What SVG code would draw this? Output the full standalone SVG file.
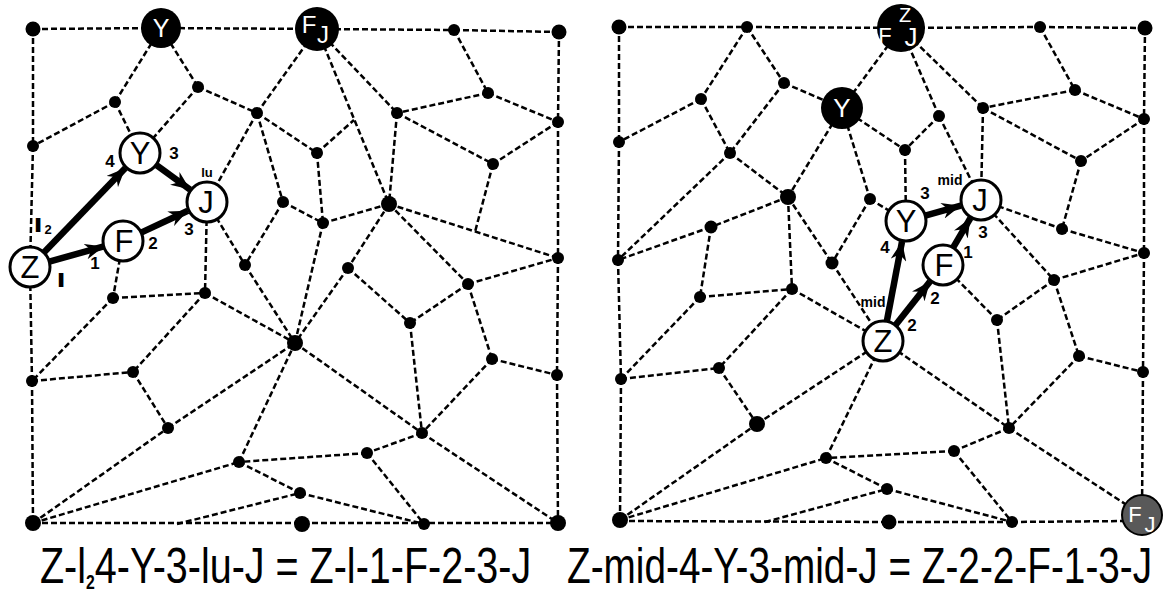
<svg xmlns="http://www.w3.org/2000/svg" width="1166" height="592" viewBox="0 0 1166 592">
<defs>
<style>
.e line{stroke:#000;stroke-width:2.5;stroke-dasharray:6 3;fill:none}
.n{fill:#000}
.c{fill:#fff;stroke:#000;stroke-width:3}
.a line{stroke:#000;stroke-width:6.5;marker-end:url(#ah)}
.cl{font-family:"Liberation Sans",Arial,sans-serif;font-size:31px;text-anchor:middle;fill:#000}
.wl{font-family:"Liberation Sans",Arial,sans-serif;text-anchor:middle;fill:#fff}
.lb{font-family:"Liberation Sans",Arial,sans-serif;font-weight:bold;font-size:17px;text-anchor:middle;fill:#000}
.sm{font-family:"Liberation Sans",Arial,sans-serif;font-weight:bold;font-size:13px;text-anchor:middle;fill:#000}
.md{font-family:"Liberation Sans",Arial,sans-serif;font-weight:bold;font-size:14px;text-anchor:middle;fill:#000}
.hv{stroke:#000;stroke-width:2.2}
.bt{font-family:"Liberation Sans",Arial,sans-serif;font-size:50px;fill:#000}
</style>
<marker id="ah" markerUnits="userSpaceOnUse" markerWidth="19" markerHeight="16" viewBox="0 0 19 16" refX="19" refY="8" orient="auto">
<path d="M0,0 L19,8 L0,16 L6,8 z" fill="#000"/>
</marker>
</defs>
<rect width="1166" height="592" fill="#fff"/>

<g id="connectors-left" class="e">
<line x1="33" y1="29" x2="161" y2="28"/>
<line x1="161" y1="28" x2="317" y2="29"/>
<line x1="317" y1="29" x2="454" y2="30"/>
<line x1="454" y1="30" x2="559" y2="32"/>
<line x1="559" y1="32" x2="558" y2="122"/>
<line x1="558" y1="122" x2="558" y2="258"/>
<line x1="558" y1="258" x2="557" y2="375"/>
<line x1="557" y1="375" x2="558" y2="523"/>
<line x1="33" y1="523" x2="558" y2="523"/>
<line x1="33" y1="29" x2="33" y2="146"/>
<line x1="33" y1="146" x2="30" y2="267"/>
<line x1="30" y1="267" x2="32" y2="381"/>
<line x1="32" y1="381" x2="33" y2="523"/>
<line x1="161" y1="28" x2="115" y2="102"/>
<line x1="161" y1="28" x2="198" y2="87"/>
<line x1="198" y1="87" x2="257" y2="113"/>
<line x1="115" y1="102" x2="33" y2="146"/>
<line x1="115" y1="102" x2="140" y2="153"/>
<line x1="198" y1="87" x2="140" y2="153"/>
<line x1="257" y1="113" x2="317" y2="29"/>
<line x1="257" y1="113" x2="317" y2="153"/>
<line x1="257" y1="113" x2="207" y2="202"/>
<line x1="257" y1="113" x2="283" y2="202"/>
<line x1="283" y1="202" x2="245" y2="265"/>
<line x1="207" y1="202" x2="245" y2="265"/>
<line x1="207" y1="202" x2="205" y2="293"/>
<line x1="123" y1="241" x2="113" y2="298"/>
<line x1="317" y1="29" x2="389" y2="204"/>
<line x1="317" y1="29" x2="397" y2="113"/>
<line x1="454" y1="30" x2="488" y2="93"/>
<line x1="488" y1="93" x2="397" y2="113"/>
<line x1="488" y1="93" x2="558" y2="122"/>
<line x1="397" y1="113" x2="493" y2="164"/>
<line x1="558" y1="122" x2="493" y2="164"/>
<line x1="397" y1="113" x2="389" y2="204"/>
<line x1="493" y1="164" x2="475" y2="232"/>
<line x1="389" y1="204" x2="558" y2="258"/>
<line x1="389" y1="204" x2="323" y2="223"/>
<line x1="317" y1="153" x2="323" y2="223"/>
<line x1="317" y1="153" x2="354" y2="120"/>
<line x1="283" y1="202" x2="323" y2="223"/>
<line x1="323" y1="223" x2="295" y2="343"/>
<line x1="389" y1="204" x2="348" y2="268"/>
<line x1="389" y1="204" x2="468" y2="284"/>
<line x1="468" y1="284" x2="558" y2="258"/>
<line x1="348" y1="268" x2="410" y2="323"/>
<line x1="348" y1="268" x2="295" y2="343"/>
<line x1="468" y1="284" x2="410" y2="323"/>
<line x1="468" y1="284" x2="492" y2="359"/>
<line x1="492" y1="359" x2="557" y2="375"/>
<line x1="492" y1="359" x2="422" y2="433"/>
<line x1="410" y1="323" x2="422" y2="433"/>
<line x1="295" y1="343" x2="422" y2="433"/>
<line x1="422" y1="433" x2="367" y2="453"/>
<line x1="422" y1="433" x2="558" y2="523"/>
<line x1="367" y1="453" x2="239" y2="462"/>
<line x1="367" y1="453" x2="424" y2="524"/>
<line x1="300" y1="493" x2="424" y2="524"/>
<line x1="239" y1="462" x2="300" y2="493"/>
<line x1="239" y1="462" x2="295" y2="343"/>
<line x1="33" y1="523" x2="239" y2="462"/>
<line x1="177" y1="524" x2="300" y2="493"/>
<line x1="113" y1="298" x2="32" y2="381"/>
<line x1="113" y1="298" x2="205" y2="293"/>
<line x1="205" y1="293" x2="133" y2="372"/>
<line x1="32" y1="381" x2="133" y2="372"/>
<line x1="133" y1="372" x2="168" y2="428"/>
<line x1="168" y1="428" x2="295" y2="343"/>
<line x1="33" y1="523" x2="168" y2="428"/>
<line x1="205" y1="293" x2="295" y2="343"/>
<line x1="245" y1="265" x2="295" y2="343"/>
</g>

<g id="connectors-right" class="e">
<line x1="619" y1="27" x2="747" y2="27"/>
<line x1="747" y1="27" x2="901" y2="28"/>
<line x1="901" y1="28" x2="1040" y2="27"/>
<line x1="1040" y1="27" x2="1145" y2="28"/>
<line x1="1145" y1="28" x2="1144" y2="119"/>
<line x1="1144" y1="119" x2="1144" y2="253"/>
<line x1="1144" y1="253" x2="1143" y2="372"/>
<line x1="1143" y1="372" x2="1142" y2="515"/>
<line x1="620" y1="521" x2="889" y2="522"/>
<line x1="889" y1="522" x2="1012" y2="522"/>
<line x1="1012" y1="522" x2="1130" y2="521"/>
<line x1="619" y1="27" x2="619" y2="142"/>
<line x1="619" y1="142" x2="618" y2="260"/>
<line x1="618" y1="260" x2="621" y2="379"/>
<line x1="621" y1="379" x2="620" y2="520"/>
<line x1="747" y1="27" x2="701" y2="99"/>
<line x1="747" y1="27" x2="784" y2="83"/>
<line x1="701" y1="99" x2="619" y2="142"/>
<line x1="701" y1="99" x2="730" y2="153"/>
<line x1="784" y1="83" x2="730" y2="153"/>
<line x1="784" y1="83" x2="842" y2="108"/>
<line x1="842" y1="108" x2="901" y2="28"/>
<line x1="842" y1="108" x2="788" y2="197"/>
<line x1="842" y1="108" x2="870" y2="199"/>
<line x1="842" y1="108" x2="905" y2="150"/>
<line x1="730" y1="153" x2="788" y2="197"/>
<line x1="730" y1="153" x2="618" y2="260"/>
<line x1="788" y1="197" x2="711" y2="227"/>
<line x1="788" y1="197" x2="792" y2="289"/>
<line x1="788" y1="197" x2="832" y2="263"/>
<line x1="870" y1="199" x2="832" y2="263"/>
<line x1="870" y1="199" x2="906" y2="221"/>
<line x1="711" y1="227" x2="618" y2="260"/>
<line x1="711" y1="227" x2="700" y2="297"/>
<line x1="1040" y1="27" x2="1075" y2="90"/>
<line x1="1075" y1="90" x2="983" y2="108"/>
<line x1="1075" y1="90" x2="1144" y2="119"/>
<line x1="901" y1="28" x2="983" y2="108"/>
<line x1="901" y1="28" x2="939" y2="116"/>
<line x1="939" y1="116" x2="905" y2="150"/>
<line x1="939" y1="116" x2="981" y2="200"/>
<line x1="983" y1="108" x2="981" y2="200"/>
<line x1="983" y1="108" x2="1081" y2="161"/>
<line x1="1144" y1="119" x2="1081" y2="161"/>
<line x1="1081" y1="161" x2="1062" y2="229"/>
<line x1="905" y1="150" x2="906" y2="221"/>
<line x1="981" y1="200" x2="1062" y2="229"/>
<line x1="1062" y1="229" x2="1144" y2="253"/>
<line x1="981" y1="200" x2="1054" y2="280"/>
<line x1="1054" y1="280" x2="1144" y2="253"/>
<line x1="943" y1="265" x2="997" y2="320"/>
<line x1="1054" y1="280" x2="997" y2="320"/>
<line x1="1054" y1="280" x2="1079" y2="356"/>
<line x1="1079" y1="356" x2="1143" y2="372"/>
<line x1="1079" y1="356" x2="1009" y2="428"/>
<line x1="997" y1="320" x2="1009" y2="428"/>
<line x1="883" y1="341" x2="1009" y2="428"/>
<line x1="1009" y1="428" x2="954" y2="451"/>
<line x1="1009" y1="428" x2="1142" y2="515"/>
<line x1="954" y1="451" x2="826" y2="458"/>
<line x1="954" y1="451" x2="1012" y2="522"/>
<line x1="887" y1="489" x2="1012" y2="522"/>
<line x1="887" y1="489" x2="826" y2="458"/>
<line x1="700" y1="297" x2="621" y2="379"/>
<line x1="700" y1="297" x2="792" y2="289"/>
<line x1="792" y1="289" x2="719" y2="368"/>
<line x1="621" y1="379" x2="719" y2="368"/>
<line x1="719" y1="368" x2="757" y2="424"/>
<line x1="757" y1="424" x2="883" y2="341"/>
<line x1="620" y1="520" x2="757" y2="424"/>
<line x1="620" y1="520" x2="826" y2="458"/>
<line x1="765" y1="522" x2="887" y2="489"/>
<line x1="792" y1="289" x2="883" y2="341"/>
<line x1="832" y1="263" x2="883" y2="341"/>
<line x1="826" y1="458" x2="883" y2="341"/>
</g>

<g id="points-left">
<g id="L1"><circle class="n" cx="33" cy="29" r="7.5"/></g>
<g id="L4"><circle class="n" cx="454" cy="30" r="6"/></g>
<g id="L5"><circle class="n" cx="559" cy="32" r="7.5"/></g>
<g id="L6"><circle class="n" cx="198" cy="87" r="6"/></g>
<g id="L7"><circle class="n" cx="115" cy="102" r="6"/></g>
<g id="L8"><circle class="n" cx="257" cy="113" r="6"/></g>
<g id="L9"><circle class="n" cx="33" cy="146" r="6"/></g>
<g id="L10"><circle class="n" cx="488" cy="93" r="6"/></g>
<g id="L11"><circle class="n" cx="397" cy="113" r="6"/></g>
<g id="L12"><circle class="n" cx="558" cy="122" r="6"/></g>
<g id="L13"><circle class="n" cx="317" cy="153" r="6"/></g>
<g id="L14"><circle class="n" cx="493" cy="164" r="6"/></g>
<g id="L15"><circle class="n" cx="389" cy="204" r="8"/></g>
<g id="L16"><circle class="n" cx="283" cy="202" r="6"/></g>
<g id="L17"><circle class="n" cx="323" cy="223" r="6"/></g>
<g id="L18"><circle class="n" cx="245" cy="265" r="6"/></g>
<g id="L19"><circle class="n" cx="558" cy="258" r="6"/></g>
<g id="L20"><circle class="n" cx="348" cy="268" r="6"/></g>
<g id="L21"><circle class="n" cx="113" cy="298" r="6"/></g>
<g id="L22"><circle class="n" cx="205" cy="293" r="6"/></g>
<g id="L23"><circle class="n" cx="468" cy="284" r="6"/></g>
<g id="L24"><circle class="n" cx="410" cy="323" r="6"/></g>
<g id="L25"><circle class="n" cx="295" cy="343" r="8"/></g>
<g id="L26"><circle class="n" cx="32" cy="381" r="6"/></g>
<g id="L27"><circle class="n" cx="133" cy="372" r="6"/></g>
<g id="L28"><circle class="n" cx="492" cy="359" r="6"/></g>
<g id="L29"><circle class="n" cx="557" cy="375" r="6"/></g>
<g id="L30"><circle class="n" cx="168" cy="428" r="6"/></g>
<g id="L31"><circle class="n" cx="422" cy="433" r="6"/></g>
<g id="L32"><circle class="n" cx="367" cy="453" r="6"/></g>
<g id="L33"><circle class="n" cx="239" cy="462" r="6"/></g>
<g id="L34"><circle class="n" cx="300" cy="493" r="6"/></g>
<g id="L35"><circle class="n" cx="33" cy="523" r="8"/></g>
<g id="L36"><circle class="n" cx="302" cy="524" r="8"/></g>
<g id="L37"><circle class="n" cx="424" cy="524" r="6"/></g>
<g id="L38"><circle class="n" cx="558" cy="523" r="8"/></g>
</g>

<g id="points-right">
<g id="R1"><circle class="n" cx="619" cy="27" r="7.5"/></g>
<g id="R2"><circle class="n" cx="747" cy="27" r="6"/></g>
<g id="R4"><circle class="n" cx="1040" cy="27" r="6"/></g>
<g id="R5"><circle class="n" cx="1145" cy="28" r="7.5"/></g>
<g id="R6"><circle class="n" cx="784" cy="83" r="6"/></g>
<g id="R7"><circle class="n" cx="701" cy="99" r="6"/></g>
<g id="R9"><circle class="n" cx="619" cy="142" r="6"/></g>
<g id="R10"><circle class="n" cx="730" cy="153" r="6"/></g>
<g id="R11"><circle class="n" cx="788" cy="197" r="8"/></g>
<g id="R12"><circle class="n" cx="870" cy="199" r="6"/></g>
<g id="R13"><circle class="n" cx="711" cy="227" r="6.5"/></g>
<g id="R14"><circle class="n" cx="832" cy="263" r="6.5"/></g>
<g id="R15"><circle class="n" cx="618" cy="260" r="6"/></g>
<g id="R16"><circle class="n" cx="1075" cy="90" r="6"/></g>
<g id="R17"><circle class="n" cx="983" cy="108" r="6"/></g>
<g id="R18"><circle class="n" cx="939" cy="116" r="6"/></g>
<g id="R19"><circle class="n" cx="1144" cy="119" r="6"/></g>
<g id="R20"><circle class="n" cx="905" cy="150" r="6"/></g>
<g id="R21"><circle class="n" cx="1081" cy="161" r="6"/></g>
<g id="R22"><circle class="n" cx="1062" cy="229" r="6"/></g>
<g id="R23"><circle class="n" cx="1144" cy="253" r="6"/></g>
<g id="R24"><circle class="n" cx="1054" cy="280" r="6"/></g>
<g id="R25"><circle class="n" cx="997" cy="320" r="6"/></g>
<g id="R26"><circle class="n" cx="1079" cy="356" r="6"/></g>
<g id="R27"><circle class="n" cx="1143" cy="372" r="6"/></g>
<g id="R28"><circle class="n" cx="1009" cy="428" r="6"/></g>
<g id="R29"><circle class="n" cx="954" cy="451" r="6"/></g>
<g id="R30"><circle class="n" cx="887" cy="489" r="6"/></g>
<g id="R31"><circle class="n" cx="889" cy="522" r="7.5"/></g>
<g id="R32"><circle class="n" cx="1012" cy="522" r="6"/></g>
<g id="R34"><circle class="n" cx="700" cy="297" r="6"/></g>
<g id="R35"><circle class="n" cx="792" cy="289" r="6"/></g>
<g id="R36"><circle class="n" cx="621" cy="379" r="6"/></g>
<g id="R37"><circle class="n" cx="719" cy="368" r="6"/></g>
<g id="R38"><circle class="n" cx="757" cy="424" r="8"/></g>
<g id="R39"><circle class="n" cx="826" cy="458" r="6"/></g>
<g id="R40"><circle class="n" cx="620" cy="520" r="8"/></g>
</g>

<g id="arrows-left" class="a">
<line x1="43.9" y1="252.6" x2="125.4" y2="167.9"/>
<line x1="49.3" y1="261.6" x2="103.8" y2="246.4"/>
<line x1="141.1" y1="232.6" x2="187.9" y2="210.8"/>
<line x1="156.1" y1="164.8" x2="190.1" y2="189.6"/>
</g>
<g id="arrows-right" class="a">
<line x1="886.8" y1="321.4" x2="902" y2="241.6"/>
<line x1="895.4" y1="325.3" x2="930" y2="281.5"/>
<line x1="953.1" y1="247.7" x2="970.4" y2="218.1"/>
<line x1="925.3" y1="215.6" x2="960.8" y2="205.7"/>
</g>

<g id="L2-Yblack"><circle class="n" cx="161" cy="28" r="20"/><text class="wl" x="161" y="37" font-size="25">Y</text></g>
<g id="L3-FJblack"><circle class="n" cx="317" cy="29" r="22"/><text class="wl" x="309" y="33" font-size="24">F</text><text class="wl" x="323" y="43" font-size="24">J</text></g>
<g id="LZ"><circle class="c" cx="30" cy="267" r="20"/><text class="cl" x="30" y="278">Z</text></g>
<g id="LY"><circle class="c" cx="140" cy="153" r="20"/><text class="cl" x="140" y="164">Y</text></g>
<g id="LF"><circle class="c" cx="123" cy="241" r="20"/><text class="cl" x="124" y="252">F</text></g>
<g id="LJ"><circle class="c" cx="207" cy="202" r="20"/><text class="cl" x="206" y="213">J</text></g>

<g id="R8-Yblack"><circle class="n" cx="842" cy="108" r="21"/><text class="wl" x="842" y="117" font-size="26">Y</text></g>
<g id="R3-FZJblack"><circle class="n" cx="901" cy="28" r="24"/><text class="wl" x="885" y="43" font-size="22">F</text><text class="wl" x="905" y="22" font-size="20">Z</text><text class="wl" x="911" y="46" font-size="26">J</text></g>
<g id="R33-FJgray"><circle cx="1142" cy="515" r="20" fill="#595959" stroke="#000" stroke-width="2"/><text class="wl" x="1135" y="522" font-size="22">F</text><text class="wl" x="1150" y="532" font-size="22">J</text></g>
<g id="RZ"><circle class="c" cx="883" cy="341" r="20"/><text class="cl" x="883" y="352">Z</text></g>
<g id="RY"><circle class="c" cx="906" cy="221" r="20"/><text class="cl" x="906" y="232">Y</text></g>
<g id="RF"><circle class="c" cx="943" cy="265" r="20"/><text class="cl" x="944" y="276">F</text></g>
<g id="RJ"><circle class="c" cx="981" cy="200" r="20"/><text class="cl" x="980" y="211">J</text></g>

<g id="labels-left">
<text class="lb" x="110" y="167">4</text>
<text class="lb" x="174" y="159">3</text>
<text class="sm" x="207" y="177">lu</text>
<text class="lb" x="189" y="235">3</text>
<text class="lb" x="153" y="249">2</text>
<text class="lb" x="95" y="269">1</text>
<text class="lb hv" x="38" y="231">l</text>
<text class="sm" x="48" y="234">2</text>
<text class="lb hv" x="61" y="286">l</text>
</g>
<g id="labels-right">
<text class="md" x="950" y="185">mid</text>
<text class="lb" x="925" y="199">3</text>
<text class="lb" x="983" y="238">3</text>
<text class="lb" x="885" y="253">4</text>
<text class="lb" x="968" y="258">1</text>
<text class="lb" x="935" y="304">2</text>
<text class="md" x="873" y="307">mid</text>
<text class="lb" x="912" y="331">2</text>
</g>

<g id="captions">
<text class="bt" transform="translate(40,583) scale(0.79,1)">Z-l<tspan font-size="20" font-weight="bold" dy="6">2</tspan><tspan dy="-6">4-Y-3-lu-J = Z-l-1-F-2-3-J</tspan></text>
<text class="bt" transform="translate(567,583) scale(0.775,1)">Z-mid-4-Y-3-mid-J = Z-2-2-F-1-3-J</text>
</g>
</svg>
